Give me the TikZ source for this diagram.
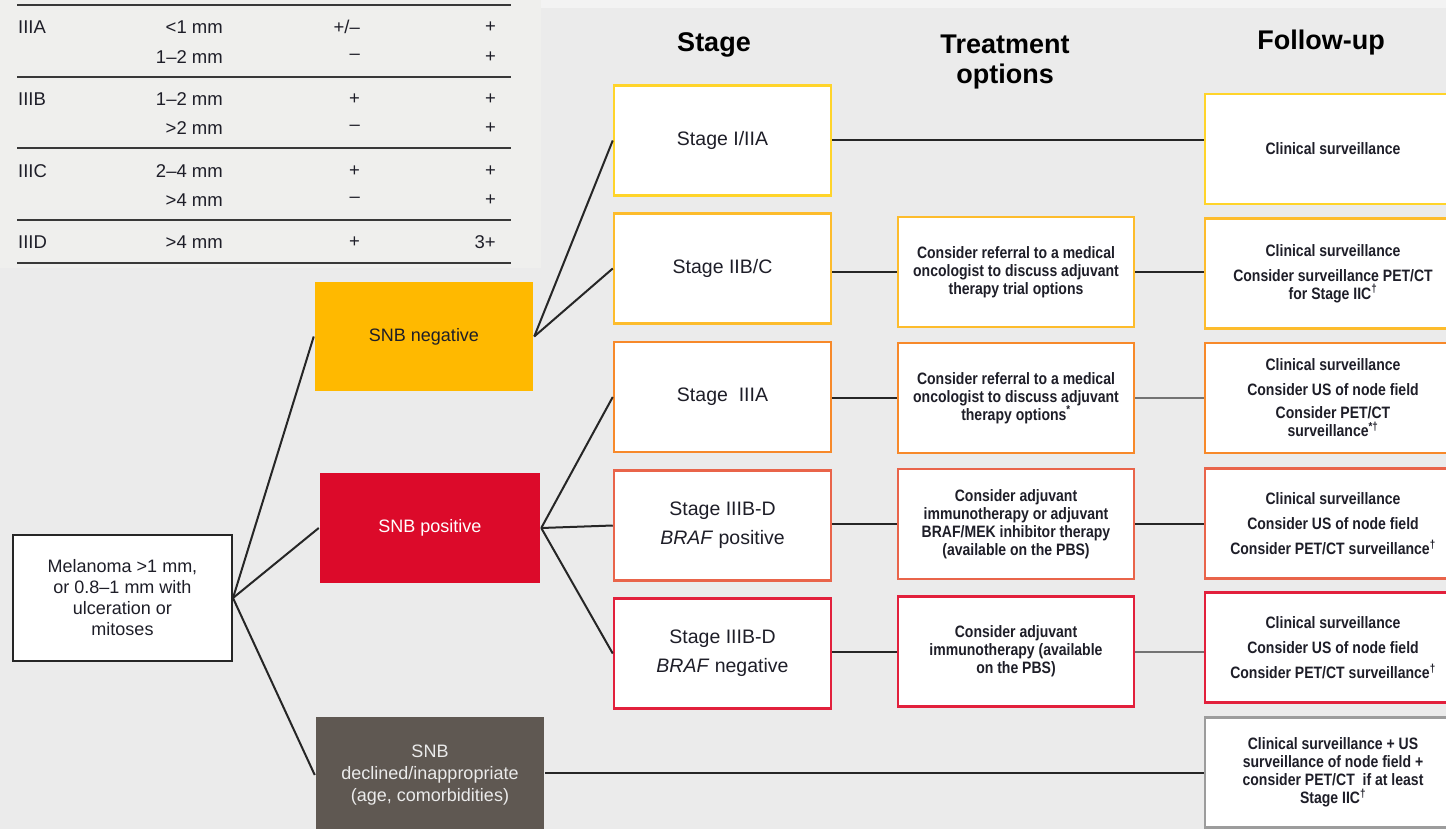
\documentclass[tikz,border=0pt]{standalone}
\usepackage{fontspec}
\setmainfont{Liberation Sans}
\newfontfamily\narrowfont{Liberation Sans}[FakeStretch=0.85]
\usetikzlibrary{positioning}

\definecolor{bggray}{HTML}{EBEBEB}
\definecolor{tablebg}{HTML}{EFEFED}
\definecolor{topstrip}{HTML}{F3F3F3}
\definecolor{snbamber}{HTML}{FFB900}
\definecolor{snbred}{HTML}{DC0A2A}
\definecolor{snbgrey}{HTML}{5F5852}
\definecolor{lineyellow}{HTML}{FFD42A}
\definecolor{lineamber}{HTML}{FDBC2C}
\definecolor{lineorange}{HTML}{F7892A}
\definecolor{linecoral}{HTML}{E9644A}
\definecolor{linered}{HTML}{E2203C}
\definecolor{linegrey}{HTML}{9C9C9C}
\definecolor{inkdark}{HTML}{1E1E28}

\tikzset{
  box/.style={draw, fill=white, line width=2.5pt, align=center, inner sep=0pt, text=inkdark},
  snbbox/.style={box, draw=none, minimum width=220pt, minimum height=110pt, font=\fontsize{18}{22}\selectfont},
  stagebox/.style={box, minimum width=217pt, minimum height=110pt, font=\fontsize{19.5}{29}\selectfont},
  treatbox/.style={box, minimum width=236pt, minimum height=110pt, font=\narrowfont\bfseries\fontsize{16.5}{18}\selectfont},
  fubox/.style={box, minimum width=256pt, minimum height=110pt, font=\narrowfont\bfseries\fontsize{16.5}{18}\selectfont},
  heading/.style={align=center, font=\bfseries\fontsize{27}{30}\selectfont, text=black},
  tabcell/.style={inner sep=0pt, text=inkdark, font=\fontsize{18.5}{22}\selectfont},
  link/.style={line width=2pt, draw=black!85},
}

\begin{document}
\begin{tikzpicture}[x=1pt, y=-1pt]
  \useasboundingbox (0,0) rectangle (1446,829);
  \fill[bggray] (0,0) rectangle (1446,829);
  \fill[tablebg] (0,0) rectangle (541,268);
  \fill[topstrip] (541,0) rectangle (1446,8);

  % staging table
  \foreach \y in {5,77,148,220,263}
    \draw[line width=2pt, draw=black!78] (17,\y) -- (511,\y);
  \foreach \y/\ca/\cb/\cc/\cd [count=\r] in {27/IIIA/{<1 mm}/{+/–}/+, 57/{}/{1–2 mm}/–/+,
      99/IIIB/{1–2 mm}/+/+, 128/{}/{>2 mm}/–/+, 171/IIIC/{2–4 mm}/+/+,
      200/{}/{>4 mm}/–/+, 242/IIID/{>4 mm}/+/3+}{
    \node[tabcell, anchor=west] (tab\r a) at (18,\y) {\ca};
    \node[tabcell, anchor=east] (tab\r b) at (223,\y) {\cb};
    \node[tabcell, anchor=east] (tab\r c) at (360,\y) {\cc};
    \node[tabcell, anchor=east] (tab\r d) at (496,\y) {\cd};
  }

  % column headings
  \node[heading] (hstage) at (714,45) {Stage};
  \node[heading] (htreat) at (1005,62) {Treatment\\options};
  \node[heading] (hfollow) at (1321,43) {Follow-up};

  % start and SNB result
  \node[box, draw=black!85, line width=2pt, minimum width=219pt, minimum height=126pt,
        font=\fontsize{18}{21}\selectfont] (mel) at (122.5,598)
        {Melanoma >1 mm,\\or 0.8–1 mm with\\ulceration or\\mitoses};
  \node[snbbox, fill=snbamber, minimum width=218pt, minimum height=109pt] (snbneg) at (424,336.5) {SNB negative};
  \node[snbbox, fill=snbred, text=white] (snbpos) at (430,528) {SNB positive};
  \node[snbbox, fill=snbgrey, text=white!92!black, minimum width=228pt, minimum height=116pt] (snbdec) at (430,775)
        {SNB\\declined/inappropriate\\(age, comorbidities)};

  % stages
  \node[stagebox, draw=lineyellow] (s1) at (722.5,140.5) {Stage I/IIA};
  \node[stagebox, draw=lineamber] (s2) at (722.5,268.5) {Stage IIB/C};
  \node[stagebox, draw=lineorange] (s3) at (722.5,397) {Stage~ IIIA};
  \node[stagebox, draw=linecoral] (s4) at (722.5,525.5) {Stage IIIB-D\\\textit{BRAF} positive};
  \node[stagebox, draw=linered] (s5) at (722.5,653.5) {Stage IIIB-D\\\textit{BRAF} negative};

  % treatment options
  \node[treatbox, draw=lineamber] (t2) at (1016,272)
        {Consider referral to a medical\\oncologist to discuss adjuvant\\therapy trial options};
  \node[treatbox, draw=lineorange] (t3) at (1016,398)
        {Consider referral to a medical\\oncologist to discuss adjuvant\\therapy options\textsuperscript{*}};
  \node[treatbox, draw=linecoral] (t4) at (1016,524)
        {Consider adjuvant\\immunotherapy or adjuvant\\BRAF/MEK inhibitor therapy\\(available on the PBS)};
  \node[treatbox, draw=linered] (t5) at (1016,651.5)
        {Consider adjuvant\\immunotherapy (available\\on the PBS)};

  % follow-up
  \node[fubox, draw=lineyellow] (f1) at (1333,149) {Clinical surveillance};
  \node[fubox, draw=lineamber] (f2) at (1333,273.5)
        {Clinical surveillance\\[7pt]Consider surveillance PET/CT\\for Stage IIC\textsuperscript{†}};
  \node[fubox, draw=lineorange] (f3) at (1333,398)
        {Clinical surveillance\\[7pt]Consider US of node field\\[5pt]Consider PET/CT\\surveillance\textsuperscript{*†}};
  \node[fubox, draw=linecoral] (f4) at (1333,523.5)
        {Clinical surveillance\\[7pt]Consider US of node field\\[7pt]Consider PET/CT surveillance\textsuperscript{†}};
  \node[fubox, draw=linered] (f5) at (1333,647.5)
        {Clinical surveillance\\[7pt]Consider US of node field\\[7pt]Consider PET/CT surveillance\textsuperscript{†}};
  \node[fubox, draw=linegrey] (f6) at (1333,772.5)
        {Clinical surveillance + US\\surveillance of node field +\\consider PET/CT~ if at least\\Stage IIC\textsuperscript{†}};

  % connectors
  \draw[link] (mel.east) -- (snbneg.west);
  \draw[link] (mel.east) -- (snbpos.west);
  \draw[link] (mel.east) -- (snbdec.west);
  \draw[link] (snbneg.east) -- (s1.west);
  \draw[link] (snbneg.east) -- (s2.west);
  \draw[link] (snbpos.east) -- (s3.west);
  \draw[link] (snbpos.east) -- (s4.west);
  \draw[link] (snbpos.east) -- (s5.west);
  \draw[link] (s1.east) -- (s1.east -| f1.west);
  \draw[link] (t2.west -| s2.east) -- (t2.west);
  \draw[link] (t2.east) -- (t2.east -| f2.west);
  \draw[link] (t3.west -| s3.east) -- (t3.west);
  \draw[link, draw=black!55] (t3.east) -- (t3.east -| f3.west);
  \draw[link] (t4.west -| s4.east) -- (t4.west);
  \draw[link] (t4.east) -- (t4.east -| f4.west);
  \draw[link] (t5.west -| s5.east) -- (t5.west);
  \draw[link, draw=black!55] (t5.east) -- (t5.east -| f5.west);
  \draw[link] (f6.west -| snbdec.east) -- (f6.west);
\end{tikzpicture}
\end{document}
